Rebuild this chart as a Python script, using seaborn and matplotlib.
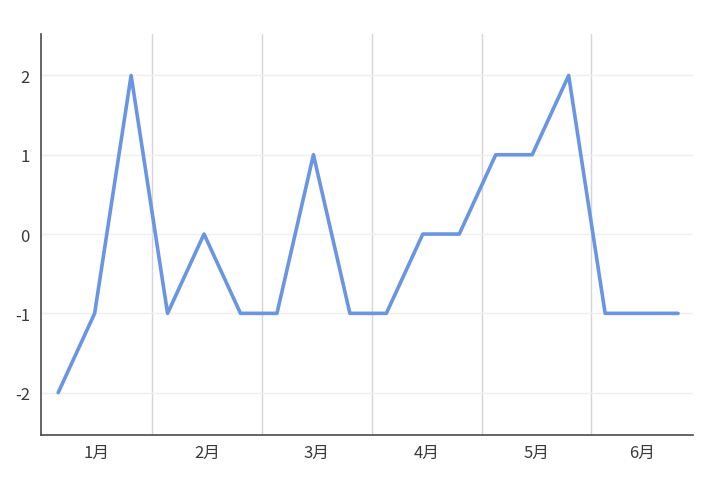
import matplotlib
matplotlib.use("Agg")
import matplotlib.pyplot as plt
import seaborn as sns
import pandas as pd
import numpy as np

months = ["1月", "2月", "3月", "4月", "5月", "6月"]
values = [-2, -1, 2, -1, 0, -1, -1, 1, -1, -1, 0, 0, 1, 1, 2, -1, -1, -1]
y_ticks = [-2, -1, 0, 1, 2]

sns.set_style("white")
plt.rcParams['font.family'] = ['Noto Sans CJK JP', 'DejaVu Sans']

df = pd.DataFrame({"idx": np.arange(len(values)), "value": values})

fig = plt.figure(figsize=(7.2, 4.89), dpi=100)
ax = fig.add_axes([0.057, 0.109, 0.905, 0.819])

# month boundaries (vertical grid)
bounds = [2.58, 5.59, 8.6, 11.61, 14.62]
for b in bounds:
    ax.axvline(b, color="#d5d5d5", lw=1.0, zorder=0)
for t in y_ticks:
    ax.axhline(t, color="#efefef", lw=1.0, zorder=0)

sns.lineplot(data=df, x="idx", y="value", ax=ax, color="#6a95e3", lw=2.6, zorder=3)

xmin, xmax = -0.47, 17.4
edges = [xmin] + bounds + [xmax]
centers = [(edges[i] + edges[i + 1]) / 2 for i in range(len(months))]
ax.set_xticks(centers)
ax.set_xticklabels(months)
ax.set_yticks(y_ticks)
ax.set_yticklabels([str(v) for v in y_ticks])
ax.set_xlim(xmin, xmax)
ax.set_ylim(-2.53, 2.52)
ax.set_xlabel("")
ax.set_ylabel("")
ax.tick_params(axis="both", length=0, labelsize=12, colors="#3a3a3a")
ax.tick_params(axis="x", pad=7)
ax.tick_params(axis="y", pad=8)

for s in ["top", "right"]:
    ax.spines[s].set_visible(False)
for s in ["left", "bottom"]:
    ax.spines[s].set_color("#4a4a4a")
    ax.spines[s].set_linewidth(1.2)

fig.savefig("out.png", dpi=100)
